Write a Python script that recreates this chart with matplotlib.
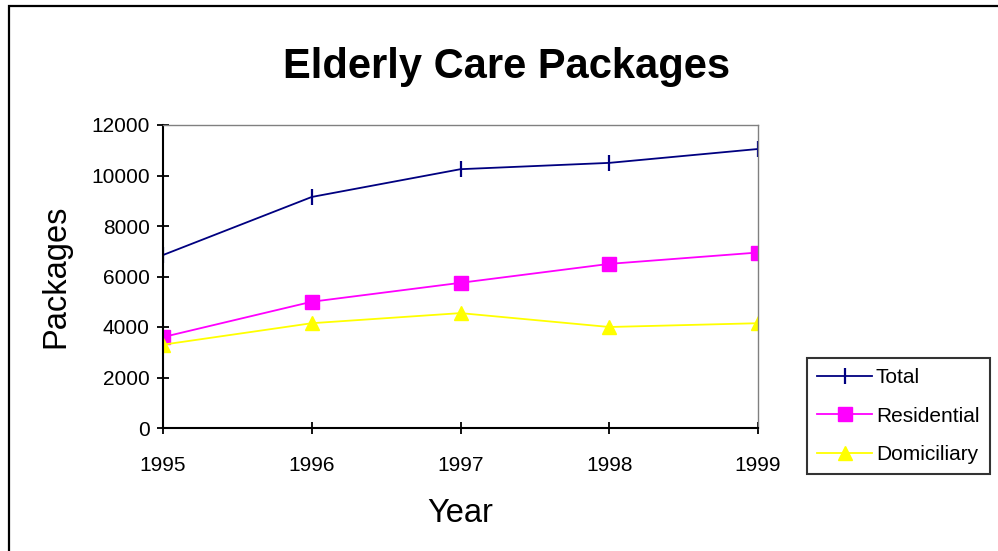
import matplotlib.pyplot as plt
from matplotlib.patches import Rectangle

plt.rcParams['font.family'] = ['Liberation Sans', 'DejaVu Sans']

# Package counts per year
years = [1995, 1996, 1997, 1998, 1999]
total = [6850, 9150, 10250, 10500, 11050]
residential = [3600, 5000, 5750, 6500, 6950]
domiciliary = [3300, 4150, 4550, 4000, 4150]
yticks = [0, 2000, 4000, 6000, 8000, 10000, 12000]

W, H = 998, 551
fig = plt.figure(figsize=(W / 100, H / 100), dpi=100)
fig.patch.set_facecolor('white')

# outer chart frame (runs off the right/bottom edge)
fig.patches.append(Rectangle((9 / W, -0.05), 1.1, (H - 6) / H + 0.05,
                             transform=fig.transFigure, fill=False,
                             edgecolor='black', linewidth=1.6))

ax = fig.add_axes([163 / W, (H - 428) / H, (758 - 163) / W, (428 - 125) / H])

ax.plot(years, total, color='#000080', lw=1.3, marker='|', ms=11, mew=1.6, label='Total')
ax.plot(years, residential, color='#FF00FF', lw=1.3, marker='s', ms=9.5, label='Residential')
ax.plot(years, domiciliary, color='#FFFF00', lw=1.3, marker='^', ms=10.5, label='Domiciliary')

ax.set_xlim(years[0], years[-1])
ax.set_ylim(0, 12000)
ax.set_xticks(years)
ax.set_yticks(yticks)
ax.tick_params(direction='inout', length=9, width=1.3, labelsize=15)
ax.tick_params(axis='y', pad=5)
ax.tick_params(axis='x', pad=16)

for side in ('left', 'bottom'):
    ax.spines[side].set_linewidth(1.5)
    ax.spines[side].set_color('black')
for side in ('top', 'right'):
    ax.spines[side].set_linewidth(1.0)
    ax.spines[side].set_color('#808080')
for ln in ax.get_xticklines() + ax.get_yticklines():
    ln.set_clip_on(False)

ax.set_xlabel('Year', fontsize=23.5, labelpad=16)
ax.set_ylabel('Packages', fontsize=23.5, labelpad=14)

fig.text(507 / W, 1 - 67 / H, 'Elderly Care Packages', fontsize=30,
         fontweight='bold', ha='center', va='center')

leg = ax.legend(loc='center left', bbox_to_anchor=(807 / W, 1 - 416 / H),
                bbox_transform=fig.transFigure, fontsize=15, frameon=True,
                fancybox=False, edgecolor='black', handlelength=2.6,
                borderpad=0.5, labelspacing=0.93, handletextpad=0.2,
                borderaxespad=0)
leg.get_frame().set_linewidth(1.5)

fig.savefig('out.png', dpi=100, facecolor='white')
